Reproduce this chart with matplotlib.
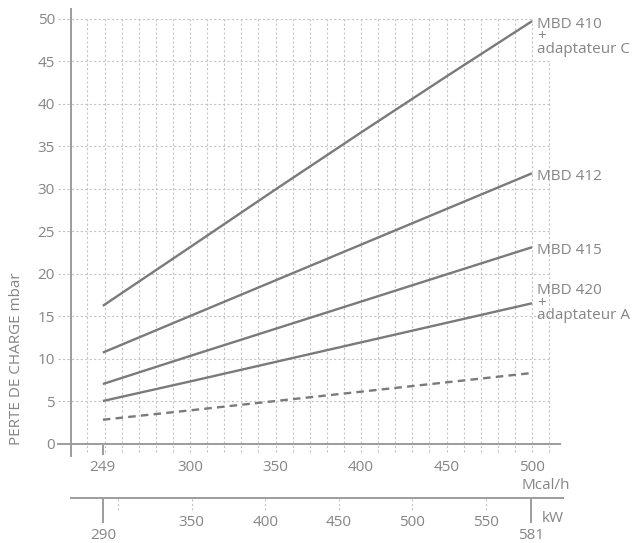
import numpy as np
import matplotlib
matplotlib.use("Agg")
import matplotlib.pyplot as plt

plt.rcParams['font.family'] = ['Open Sans', 'DejaVu Sans']

# data
mcal = [249, 300, 350, 400, 450, 500]
mbd410_c = [16.2, 23.1, 29.9, 36.6, 43.2, 49.7]
mbd412 = [10.7, 15.0, 19.2, 23.4, 27.6, 31.8]
mbd415 = [7.0, 10.3, 13.5, 16.7, 19.9, 23.1]
mbd420_a = [5.0, 7.3, 9.6, 11.9, 14.2, 16.5]
dashed = [2.8, 3.9, 5.0, 6.1, 7.2, 8.3]

labels = ["MBD 410\n+\nadaptateur C", "MBD 412", "MBD 415", "MBD 420\n+\nadaptateur A"]
y_ticks = [0, 5, 10, 15, 20, 25, 30, 35, 40, 45, 50]
x_ticks = [249, 300, 350, 400, 450, 500]
grid_x = [240, 250, 260, 270, 280, 290, 300, 310, 320, 330, 340, 350, 360, 370,
          380, 390, 400, 410, 420, 430, 440, 450, 460, 470, 480, 490, 500, 510]
kw_minor = [300, 350, 400, 450, 500, 550]
kw_labels = [350, 400, 450, 500, 550]
kw_ends = [290, 581]
kw_per_mcal = 1.163

line_col = '#7a7a7a'
axis_col = '#9c9c9c'
grid_col = '#c4c4c4'
text_col = '#858585'
fs = 11

W, H = 637, 543
fig = plt.figure(figsize=(W / 100, H / 100), dpi=100)

# main axes
ax = fig.add_axes([50 / W, 1 - 460 / H, 520 / W, 455 / H])
ax.set_xlim(218.1, 522.2)
ax.set_ylim(-1.94, 51.6)

# dotted grid
for y in y_ticks[1:]:
    right = 500 if y == 50 else 510
    ax.hlines(y, 222.8, right, color=grid_col, lw=0.8, linestyle=(0, (2, 2)), zorder=1)
for x in grid_x:
    top = 45 if x == 510 else 50
    ax.vlines(x, -1.0, top, color=grid_col, lw=0.8, linestyle=(0, (2, 2)), zorder=1)

# curves
for vals in [mbd410_c, mbd412, mbd415, mbd420_a]:
    ax.plot(mcal, vals, color=line_col, lw=1.7, solid_capstyle='butt', zorder=3)
ax.plot(mcal, dashed, color=line_col, lw=1.7, linestyle=(0, (3.2, 2.2)), zorder=3)

# curve labels
ax.text(503, mbd410_c[-1] + 0.5, labels[0], color=text_col, fontsize=fs,
        va='top', ha='left', linespacing=0.78)
ax.text(503, mbd412[-1] + 0.45, labels[1], color=text_col, fontsize=fs,
        va='top', ha='left')
ax.text(503, mbd415[-1] + 0.5, labels[2], color=text_col, fontsize=fs,
        va='top', ha='left')
ax.text(503, mbd420_a[-1] + 2.35, labels[3], color=text_col, fontsize=fs,
        va='top', ha='left', linespacing=0.78)

# axes lines
for s in ['top', 'right']:
    ax.spines[s].set_visible(False)
ax.spines['left'].set_position(('data', 230.4))
ax.spines['left'].set_bounds(-1.47, 51.08)
ax.spines['bottom'].set_position(('data', 0))
ax.spines['bottom'].set_bounds(222.8, 516.4)
for s in ['left', 'bottom']:
    ax.spines[s].set_color(axis_col)
    ax.spines[s].set_linewidth(1.4)
ax.vlines(249, -1.4, 0, color=axis_col, lw=1.4)

ax.set_yticks(y_ticks)
ax.set_xticks(x_ticks)
ax.tick_params(axis='y', length=0, pad=11.5, labelsize=fs, labelcolor=text_col)
ax.tick_params(axis='x', length=0, pad=12, labelsize=fs, labelcolor=text_col)

ax.annotate("Mcal/h", xy=(500, 0), xytext=(-7.5, -30), textcoords='offset points',
            ha='left', va='center', color=text_col, fontsize=fs)

fig.text(17 / W, 1 - 445 / H, "PERTE DE CHARGE mbar", rotation=90,
         ha='center', va='bottom', color=text_col, fontsize=fs)

# kW axis
ax2 = fig.add_axes([50 / W, 1 - 523 / H, 520 / W, 25.3 / H])
ax2.set_xlim(218.1 * kw_per_mcal, 522.2 * kw_per_mcal)
ax2.set_ylim(0, 1)
for s in ['left', 'right', 'bottom']:
    ax2.spines[s].set_visible(False)
ax2.spines['top'].set_color(axis_col)
ax2.spines['top'].set_linewidth(1.4)
ax2.spines['top'].set_bounds(230.4 * kw_per_mcal, 518.0 * kw_per_mcal)
ax2.set_xticks([])
ax2.set_yticks([])
ax2.patch.set_alpha(0)
ax2.vlines(kw_ends, 0, 1, color=axis_col, lw=1.4)
ax2.vlines(kw_minor, 0.53, 1, color=grid_col, lw=0.8, linestyle=(0, (2, 2)))
for v in kw_labels:
    ax2.text(v, 0.0, str(v), ha='center', va='center', color=text_col, fontsize=fs)
for v in kw_ends:
    ax2.text(v, -0.5, str(v), ha='center', va='center', color=text_col, fontsize=fs)
ax2.annotate("kW", xy=(581, 1), xytext=(7.5, -15), textcoords='offset points',
             ha='left', va='center', color=text_col, fontsize=fs)

fig.savefig("out.png", dpi=100)
